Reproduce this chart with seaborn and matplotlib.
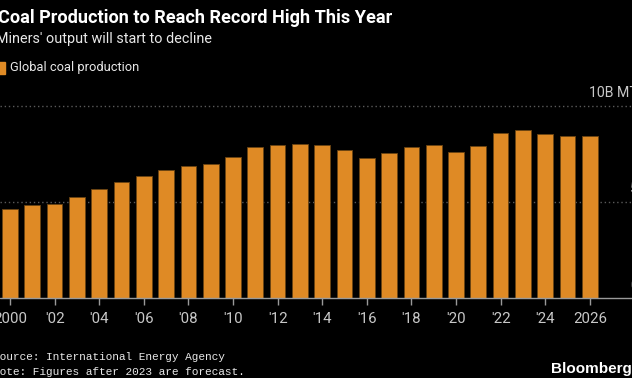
import matplotlib
matplotlib.use("Agg")
import matplotlib.pyplot as plt
import seaborn as sns
import pandas as pd
from matplotlib.patches import Rectangle

years = list(range(2000, 2027))
production = [4.64, 4.86, 4.91, 5.26, 5.67, 6.02, 6.37, 6.65, 6.85, 6.97,
              7.35, 7.84, 7.94, 8.00, 7.94, 7.70, 7.30, 7.56, 7.84, 7.98,
              7.61, 7.89, 8.60, 8.75, 8.51, 8.44, 8.41]
tick_labels = ["2000", "'02", "'04", "'06", "'08", "'10", "'12", "'14",
               "'16", "'18", "'20", "'22", "'24", "2026"]
y_labels = {10: "10B MT", 5: "5", 0: "0"}

title = "Coal Production to Reach Record High This Year"
subtitle = "Miners' output will start to decline"
legend_label = "Global coal production"
source = "Source: International Energy Agency"
note = "Note: Figures after 2023 are forecast."

BAR = "#df8a25"
EDGE = "#6b4413"
TXT = "#e8e8e8"
TICK = "#c8c8c8"

sns.set_theme(style="white")
fam = ["Roboto", "DejaVu Sans"]
plt.rcParams["font.family"] = fam

W, H = 632, 378
fig = plt.figure(figsize=(W / 100, H / 100), dpi=100, facecolor="black")

def fx(px):
    return px / W

def fy(py):
    return 1 - py / H

ax_bottom = fy(298.3)
ax_top = fy(105.7)
ax = fig.add_axes([0, ax_bottom, 1, ax_top - ax_bottom])
ax.set_facecolor("black")

df = pd.DataFrame({"year": [str(y) for y in years], "value": production})
sns.barplot(data=df, x="year", y="value", color=BAR, saturation=1,
            width=0.7, edgecolor=EDGE, linewidth=0.6, ax=ax, zorder=3)

pitch = 22.3
ax.set_xlim(-10 / pitch, (W - 10) / pitch)
ax.set_ylim(0, 10)

for s in ax.spines.values():
    s.set_visible(False)
ax.set_xlabel("")
ax.set_ylabel("")
ax.set_yticks([])

for yv in (5, 10):
    ax.axhline(yv, color="#5a5a5a", lw=1.0, ls=(0, (1, 2)), zorder=1,
               clip_on=False)
ax.axhline(0, color="#9a9a9a", lw=1.0, zorder=4, clip_on=False)

ax.set_xticks(list(range(0, len(years), 2)))
ax.set_xticklabels(tick_labels)
ax.tick_params(axis="x", length=5, width=1, color="#9a9a9a",
               labelsize=10.8, pad=5, bottom=True, direction="out")
for lab in ax.get_xticklabels():
    lab.set_color(TICK)

for yv, lab in y_labels.items():
    ax.text(fx(638), yv + 0.3, lab, transform=ax.get_yaxis_transform(),
            ha="right", va="bottom", color=TICK, fontsize=10.2,
            fontfamily=fam)

fig.text(fx(-2), fy(18), title, color="white", fontsize=13.1,
         fontweight="bold", ha="left", va="center")
fig.text(fx(-4), fy(39), subtitle, color=TXT, fontsize=10.4,
         ha="left", va="center")
fig.patches.append(Rectangle((fx(-2), fy(74)), fx(7), fy(62) - fy(74),
                             transform=fig.transFigure, color=BAR,
                             figure=fig))
fig.text(fx(10), fy(68), legend_label, color=TXT, fontsize=9.3,
         ha="left", va="center")

mono = ["Liberation Mono", "DejaVu Sans Mono"]
fig.text(fx(-7), fy(357), source, color=TXT, fontsize=8.0,
         ha="left", va="center", fontfamily=mono)
fig.text(fx(-7), fy(372), note, color=TXT, fontsize=8.0,
         ha="left", va="center", fontfamily=mono)
fig.text(fx(632), fy(369), "Bloomberg", color="white", fontsize=11,
         fontweight="bold", ha="right", va="center",
         fontfamily=["Liberation Sans", "DejaVu Sans"])

fig.savefig("out.png", dpi=100, facecolor="black")
